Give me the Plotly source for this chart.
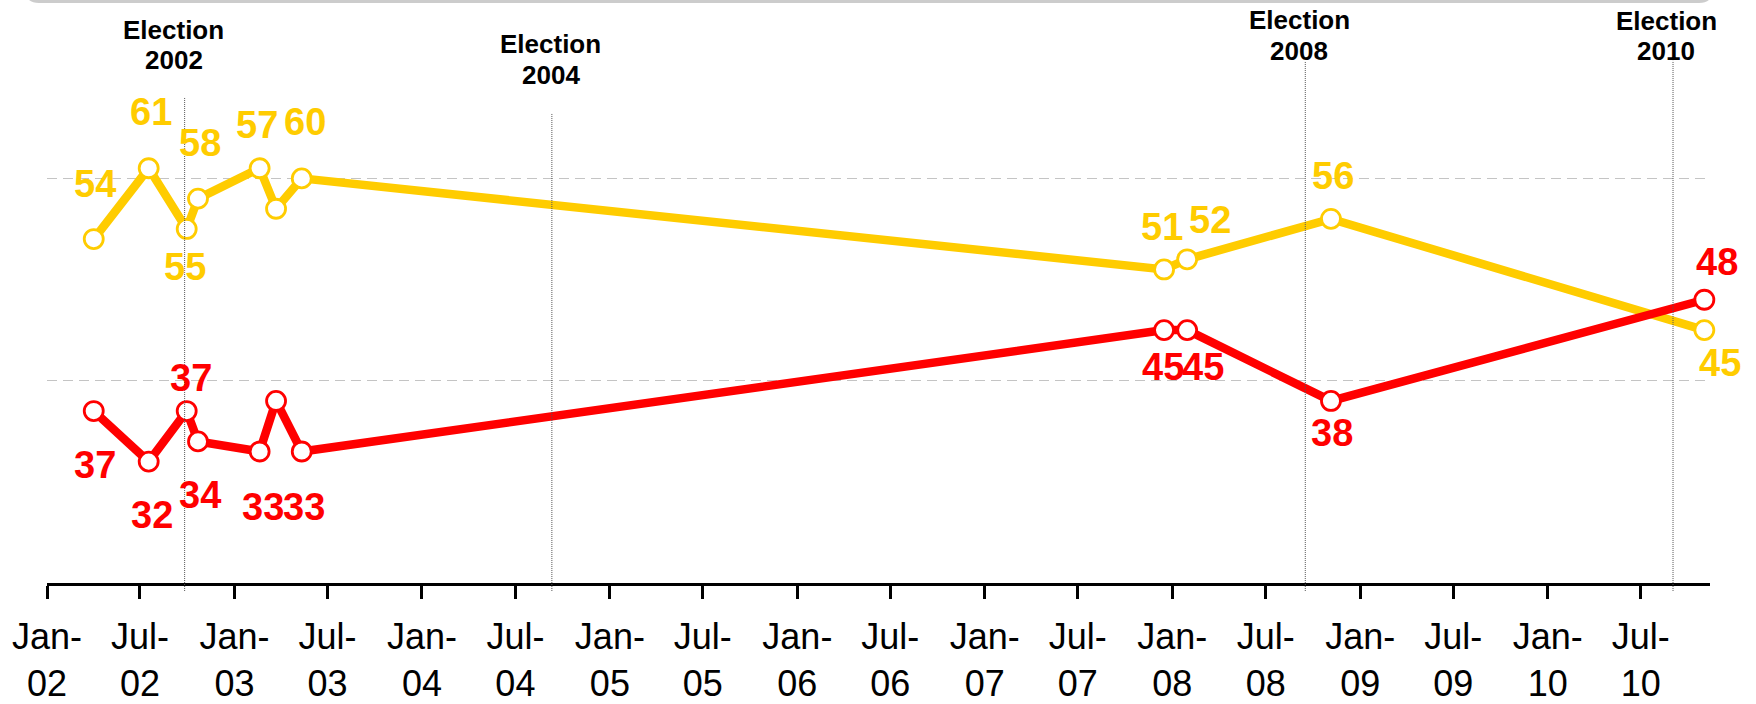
import plotly.graph_objects as go

# ---------------- data ----------------
dates = ["2002-04-02", "2002-07-18", "2002-09-30", "2002-10-22", "2003-02-19",
         "2003-03-23", "2003-05-12", "2007-12-16", "2008-01-30", "2008-11-05",
         "2010-11-02"]
yellow_values = [54, 61, 55, 58, 61, 57, 60, 51, 52, 56, 45]
red_values = [37, 32, 37, 34, 33, 38, 33, 45, 45, 38, 48]

election_words = ["Election", "Election", "Election", "Election"]
election_years = ["2002", "2004", "2008", "2010"]
election_dates = ["2002-09-26", "2004-09-10", "2008-09-16", "2010-09-02"]

tick_dates = ["2002-01-01", "2002-07-01", "2003-01-01", "2003-07-01", "2004-01-01",
              "2004-07-01", "2005-01-01", "2005-07-01", "2006-01-01", "2006-07-01",
              "2007-01-01", "2007-07-01", "2008-01-01", "2008-07-01", "2009-01-01",
              "2009-07-01", "2010-01-01", "2010-07-01"]
tick_labels = ["Jan-<br>02", "Jul-<br>02", "Jan-<br>03", "Jul-<br>03", "Jan-<br>04",
               "Jul-<br>04", "Jan-<br>05", "Jul-<br>05", "Jan-<br>06", "Jul-<br>06",
               "Jan-<br>07", "Jul-<br>07", "Jan-<br>08", "Jul-<br>08", "Jan-<br>09",
               "Jul-<br>09", "Jan-<br>10", "Jul-<br>10"]

# ---------------- styling / layout helpers ----------------
YELLOW = "#FFCC00"
RED = "#FF0000"
FONT = "Liberation Sans, Arial, sans-serif"

W, H = 1756, 704
ML, MR, MT, MB = 47, 46, 0, 119
PW = W - ML - MR
PH = H - MT - MB

# label offsets in pixels (dx, dy; dy positive = downward); None = no label
yellow_offsets = [(1, -55), (2, -56), (-2, 38), (2, -56), None, (-19, -84), (3, -56),
                  (-2, -42), (23, -39), (2, -43), (16, 33)]
red_offsets = [(1, 54), (3, 53), (4, -33), (2, 54), (3, 55), None, (2, 55),
               (-1, 37), (16, 37), (1, 32), (13, -38)]

# election label text centres (pixels from top) and line tops
election_word_centre = [30, 44, 20, 21]
election_year_centre = [60, 75, 51, 51]
election_label_dx = [-11, -1, -6, -7]
election_line_top = [98, 114, 62, 61]


def py_to_paper(py):
    return 1 - (py - MT) / PH


def px_to_paper(px):
    return (px - ML) / PW


fig = go.Figure()

for vals, col in [(yellow_values, YELLOW), (red_values, RED)]:
    fig.add_trace(go.Scatter(
        x=dates, y=vals, mode="lines+markers",
        line=dict(color=col, width=8.5),
        marker=dict(symbol="circle", size=19, color="white",
                    line=dict(color=col, width=2.8)),
        cliponaxis=False, showlegend=False, hoverinfo="x+y",
    ))

annotations = []
for vals, offs, col in [(yellow_values, yellow_offsets, YELLOW),
                        (red_values, red_offsets, RED)]:
    for d, v, o in zip(dates, vals, offs):
        if o is None:
            continue
        annotations.append(dict(
            x=d, y=v, xref="x", yref="y", text=f"<b>{v}</b>", showarrow=False,
            xanchor="center", yanchor="middle", xshift=o[0], yshift=-o[1],
            font=dict(family=FONT, size=38, color=col)))

shapes = []
for word, year, d, cw, cy, dx, top in zip(election_words, election_years, election_dates,
                                          election_word_centre, election_year_centre,
                                          election_label_dx, election_line_top):
    for txt, c in [(word, cw), (year, cy)]:
        annotations.append(dict(
            x=d, y=py_to_paper(c), xref="x", yref="paper",
            text=f"<b>{txt}</b>", showarrow=False,
            xanchor="center", yanchor="middle", xshift=dx,
            font=dict(family=FONT, size=26, color="black")))
    shapes.append(dict(
        type="line", xref="x", yref="paper", x0=d, x1=d,
        y0=py_to_paper(593), y1=py_to_paper(top),
        line=dict(color="#555555", width=1, dash="1px,1px")))

# grey rounded box edge at the very top
x0, x1 = px_to_paper(25), px_to_paper(1713)
r = 14
xa, xb = px_to_paper(25 + r), px_to_paper(1713 - r)
yb = py_to_paper(3)
ym = py_to_paper(3 - r)
yt = py_to_paper(-40)
shapes.append(dict(
    type="path", xref="paper", yref="paper",
    path=(f"M {x0} {yt} L {x0} {ym} Q {x0} {yb} {xa} {yb} L {xb} {yb} "
          f"Q {x1} {yb} {x1} {ym} L {x1} {yt} Z"),
    fillcolor="#cccccc", line=dict(width=0), layer="above"))

fig.update_layout(
    width=W, height=H,
    margin=dict(l=ML, r=MR, t=MT, b=MB, pad=0),
    paper_bgcolor="white", plot_bgcolor="white",
    font=dict(family=FONT, color="black"),
    annotations=annotations, shapes=shapes,
    showlegend=False,
)

fig.update_xaxes(
    type="date", range=["2002-01-01", "2010-11-13"],
    tickmode="array", tickvals=tick_dates, ticktext=tick_labels,
    tickfont=dict(family=FONT, size=36, color="black"),
    ticks="outside", ticklen=13, tickwidth=3, tickcolor="black",
    ticklabelstandoff=7,
    showline=True, linecolor="black", linewidth=3,
    showgrid=False, zeroline=False,
)

fig.update_yaxes(
    range=[20, 20 + PH / 10.15],
    tickmode="array", tickvals=[40, 60], showticklabels=False,
    showgrid=True, gridcolor="#c4c4c4", gridwidth=1, griddash="10px,6px",
    showline=False, zeroline=False, ticks="",
)

fig.write_html("out.html",
               config={"displayModeBar": False},
               post_script="document.body.style.margin='0';"
                           "document.body.style.overflow='hidden';")
